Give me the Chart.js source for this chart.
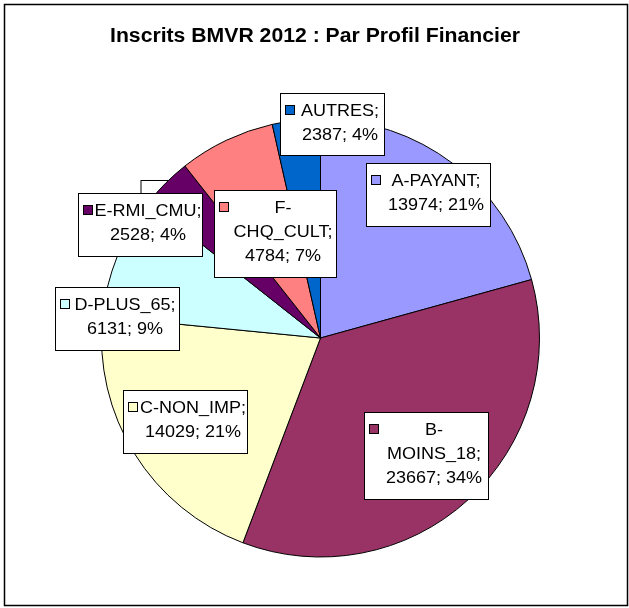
<!DOCTYPE html>
<html>
<head>
<meta charset="utf-8">
<script src="https://cdn.jsdelivr.net/npm/chart.js@4/dist/chart.umd.min.js"></script>
<style>
  html, body { margin: 0; padding: 0; background: #fff; }
</style>
</head>
<body>
<canvas id="myChart" width="629" height="608"></canvas>
<script>
// data
var title = "Inscrits BMVR 2012 : Par Profil Financier";
var categories = ["A-PAYANT", "B-MOINS_18", "C-NON_IMP", "D-PLUS_65", "E-RMI_CMU", "F-CHQ_CULT", "AUTRES"];
var inscrits = [13974, 23667, 14029, 6131, 2528, 4784, 2387];
var percents = [21, 34, 21, 9, 4, 7, 4];

var colors = ["#9999FF", "#993366", "#FFFFCC", "#CCFFFF", "#660066", "#FF8080", "#0066CC"];

// label boxes: offset of top-left corner from pie centre, width, height, wrap after hyphen
var labelBoxes = [
  { dx: 45, dy: -175, w: 124, h: 63, wrap: false },
  { dx: 43, dy: 74, w: 124, h: 87, wrap: true },
  { dx: -198, dy: 52, w: 124, h: 63, wrap: false },
  { dx: -266, dy: -51, w: 124, h: 63, wrap: false },
  { dx: -243, dy: -145, w: 124, h: 63, wrap: false },
  { dx: -107, dy: -148, w: 122, h: 87, wrap: true },
  { dx: -41, dy: -245, w: 104, h: 62, wrap: false },
];

var stretch = 1.06; // text in the picture is a bit wider than plain Arial

function labelLines(i) {
  var name = categories[i];
  var lines = [];
  if (labelBoxes[i].wrap) {
    var k = name.indexOf("-");
    lines.push(name.slice(0, k + 1));
    lines.push(name.slice(k + 1) + ";");
  } else {
    lines.push(name + ";");
  }
  lines.push(inscrits[i] + "; " + percents[i] + "%");
  return lines;
}

function wideText(ctx, t, x, y) {
  ctx.save();
  ctx.translate(x, y);
  ctx.scale(stretch, 1);
  ctx.fillText(t, 0, 0);
  ctx.restore();
}

var frame = {
  id: "frame",
  beforeDraw: function (chart) {
    var ctx = chart.ctx;
    ctx.save();
    ctx.fillStyle = "#fff";
    ctx.fillRect(0, 0, chart.width, chart.height);
    ctx.restore();
  },
  beforeDatasetsDraw: function (chart) {
    // leftover empty box sitting behind the pie
    var arc = chart.getDatasetMeta(0).data[0];
    var ctx = chart.ctx;
    ctx.save();
    ctx.fillStyle = "#fff";
    ctx.strokeStyle = "#000";
    ctx.lineWidth = 1;
    ctx.fillRect(arc.x - 180, arc.y - 158, 30, 24);
    ctx.strokeRect(arc.x - 180 + 0.5, arc.y - 158 + 0.5, 30, 24);
    ctx.restore();
  },
  afterDraw: function (chart) {
    var ctx = chart.ctx;
    ctx.save();
    ctx.strokeStyle = "#000";
    ctx.lineWidth = 1.5;
    ctx.strokeRect(4.5, 4.5, chart.width - 6, chart.height - 7);
    ctx.fillStyle = "#000";
    ctx.font = "bold 20px 'Liberation Sans', Arial, sans-serif";
    ctx.textAlign = "center";
    ctx.textBaseline = "alphabetic";
    wideText(ctx, title, 315, 42);
    ctx.restore();
  },
};

var boxLabels = {
  id: "boxLabels",
  afterDatasetsDraw: function (chart) {
    var ctx = chart.ctx;
    var meta = chart.getDatasetMeta(0);
    ctx.save();
    ctx.font = "17px 'Liberation Sans', Arial, sans-serif";
    ctx.textAlign = "center";
    ctx.textBaseline = "alphabetic";
    meta.data.forEach(function (arc, i) {
      var b = labelBoxes[i];
      var x = Math.round(arc.x + b.dx);
      var y = Math.round(arc.y + b.dy);
      ctx.fillStyle = "#fff";
      ctx.fillRect(x, y, b.w, b.h);
      ctx.strokeStyle = "#000";
      ctx.lineWidth = 1;
      ctx.strokeRect(x + 0.5, y + 0.5, b.w, b.h);
      var base = y + 23;
      // legend key
      ctx.fillStyle = colors[i];
      ctx.fillRect(x + 5, base - 11, 10, 10);
      ctx.strokeRect(x + 5.5, base - 10.5, 9, 9);
      var cx = (x + 16 + x + b.w) / 2;
      ctx.fillStyle = "#000";
      labelLines(i).forEach(function (t, j) {
        wideText(ctx, t, cx, base + j * 24);
      });
    });
    ctx.restore();
  },
};

var data = {
  labels: categories,
  datasets: [
    {
      data: inscrits,
      backgroundColor: colors,
      borderColor: "#000",
      borderWidth: 1,
      radius: 219,
    },
  ],
};

var config = {
  type: "pie",
  data: data,
  options: {
    responsive: false,
    animation: false,
    layout: { padding: { left: 21, right: 9, top: 72, bottom: 4 } },
    plugins: {
      legend: { display: false },
      tooltip: { enabled: false },
      title: { display: false },
    },
  },
  plugins: [frame, boxLabels],
};

var inscritsPie = new Chart(document.getElementById("myChart"), config);
</script>
</body>
</html>
